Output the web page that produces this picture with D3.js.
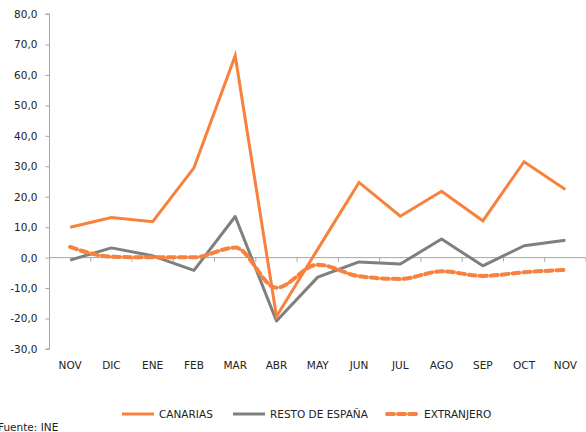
<!DOCTYPE html>
<html>
<head>
<meta charset="utf-8">
<script src="https://cdn.jsdelivr.net/npm/d3@7"></script>
<style>
  body { margin: 0; background: #fff; }
  text { font-family: "DejaVu Sans", Verdana, sans-serif; fill: #222; }
</style>
</head>
<body>
<div id="chart"></div>
<script>
// data
const months = ["NOV", "DIC", "ENE", "FEB", "MAR", "ABR", "MAY", "JUN", "JUL", "AGO", "SEP", "OCT", "NOV "];
const canarias = [10.0, 13.2, 11.8, 29.5, 66.3, -19.3, 2.8, 24.7, 13.6, 21.8, 12.1, 31.5, 22.4];
const restoEspana = [-0.8, 3.2, 0.6, -4.2, 13.5, -20.8, -6.4, -1.4, -2.1, 6.1, -2.7, 3.9, 5.7];
const extranjero = [3.5, 0.3, 0.1, 0.1, 3.3, -9.9, -2.3, -6.1, -7.0, -4.5, -6.0, -4.8, -4.0];
const yTicks = [-30, -20, -10, 0, 10, 20, 30, 40, 50, 60, 70, 80];

const orange = "#f7813d", grey = "#7f7f7f";

const W = 586, H = 432;
const margin = {top: 14, right: 0, bottom: 83, left: 49.5};
const width = W - margin.left - margin.right,
      height = H - margin.top - margin.bottom;

const svg = d3.select("#chart")
  .append("svg")
    .attr("width", W)
    .attr("height", H);

const g = svg.append("g")
    .attr("transform", `translate(${margin.left},${margin.top})`);

const x = d3.scaleBand()
  .domain(months)
  .range([0, width]);

const y = d3.scaleLinear()
  .domain([-30, 80])
  .range([height, 0]);

const fmt = d => d3.format(".1f")(d).replace(".", ",").replace("−", "-");

// Y axis
const yAxis = g.append("g")
  .call(d3.axisLeft(y).tickValues(yTicks).tickSize(4).tickPadding(8).tickFormat(fmt));
yAxis.select(".domain").attr("stroke", "#a6a6a6").attr("d", `M-4,${height}H0V0H-4`);
yAxis.selectAll(".tick line").attr("stroke", "#a6a6a6");
yAxis.selectAll("text").style("font-size", "10.5px").attr("fill", "#222");

// X axis at zero, labels at the bottom
const xAxis = g.append("g")
  .attr("transform", `translate(0,${y(0)})`)
  .call(d3.axisBottom(x).tickSize(0).tickFormat(""));
xAxis.select(".domain").attr("stroke", "#a6a6a6").attr("d", `M0,0H${width}`);
xAxis.selectAll(".tick").remove();
xAxis.selectAll("line.bt")
  .data(d3.range(1, months.length + 1))
  .join("line")
    .attr("x1", i => i * x.step())
    .attr("x2", i => i * x.step())
    .attr("y1", 0).attr("y2", 4)
    .attr("stroke", "#a6a6a6");

g.selectAll("text.month")
  .data(months)
  .join("text")
    .attr("class", "month")
    .attr("x", d => x(d) + x.bandwidth() / 2)
    .attr("y", height + 20)
    .attr("text-anchor", "middle")
    .style("font-size", "10.5px")
    .text(d => d.trim());

// Lines
const cx = (d, i) => x(months[i]) + x.bandwidth() / 2;
const straight = d3.line().x(cx).y(d => y(d));
const smooth = d3.line().x(cx).y(d => y(d)).curve(d3.curveMonotoneX);

g.append("path").datum(restoEspana)
  .attr("d", straight).attr("fill", "none")
  .attr("stroke", grey).attr("stroke-width", 3).attr("stroke-linejoin", "round");

g.append("path").datum(extranjero)
  .attr("d", smooth).attr("fill", "none")
  .attr("stroke", orange).attr("stroke-width", 4)
  .attr("stroke-dasharray", "7,4").attr("stroke-linecap", "round");

g.append("path").datum(canarias)
  .attr("d", straight).attr("fill", "none")
  .attr("stroke", orange).attr("stroke-width", 3).attr("stroke-linejoin", "miter");

// Legend
const legend = [
  {name: "CANARIAS", color: orange, dash: null, w: 3, x: 122},
  {name: "RESTO DE ESPAÑA", color: grey, dash: null, w: 3, x: 233},
  {name: "EXTRANJERO", color: orange, dash: "7,4", w: 4, x: 387}
];
const lg = svg.append("g").attr("transform", "translate(0,414)");
lg.selectAll("line")
  .data(legend)
  .join("line")
    .attr("x1", d => d.x).attr("x2", d => d.x + 32)
    .attr("y1", 0).attr("y2", 0)
    .attr("stroke", d => d.color)
    .attr("stroke-width", d => d.w)
    .attr("stroke-dasharray", d => d.dash)
    .attr("stroke-linecap", d => d.dash ? "round" : "butt");
lg.selectAll("text")
  .data(legend)
  .join("text")
    .attr("x", d => d.x + 37)
    .attr("y", 4)
    .style("font-size", "10.5px")
    .text(d => d.name);

svg.append("text")
  .attr("x", -2)
  .attr("y", 431)
  .style("font-size", "10.5px")
  .text("Fuente: INE");
</script>
</body>
</html>
